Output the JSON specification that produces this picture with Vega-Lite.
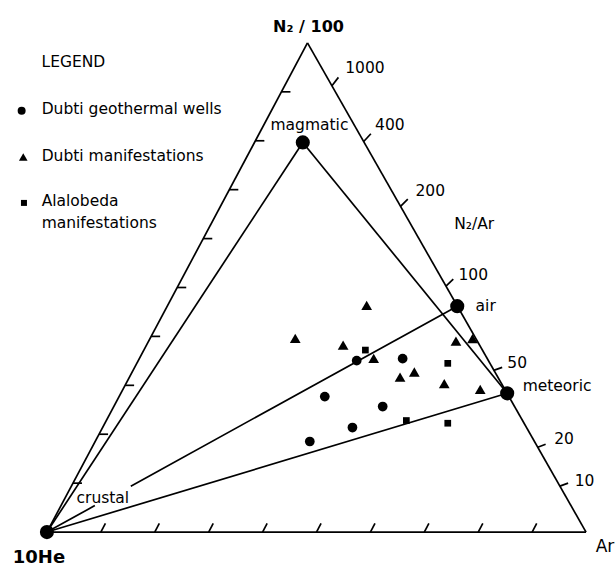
{
  "$schema": "https://vega.github.io/schema/vega-lite/v6.json",
  "width": 615,
  "height": 567,
  "autosize": {"type": "fit", "contains": "padding"},
  "padding": 0,
  "background": "white",
  "config": {"view": {"stroke": null}, "font": "DejaVu Sans"},
  "encoding": {
    "x": {"field": "x", "type": "quantitative", "scale": {"domain": [-8.7037, 105.1852], "nice": false, "zero": false}, "axis": null},
    "y": {"field": "y", "type": "quantitative", "scale": {"domain": [-6.2963, 98.7037], "nice": false, "zero": false}, "axis": null}
  },
  "layer": [
    {
      "data": {"values": [
        {"part": "edge", "x": 0, "y": 0, "x2": 48.33, "y2": 90.74},
        {"part": "edge", "x": 48.33, "y": 90.74, "x2": 100, "y2": 0},
        {"part": "edge", "x": 0, "y": 0, "x2": 100, "y2": 0},
        {"part": "crustal-magmatic", "x": 0, "y": 0, "x2": 47.46, "y2": 72.28},
        {"part": "magmatic-meteoric", "x": 47.46, "y": 72.28, "x2": 85.37, "y2": 25.74},
        {"part": "crustal-air", "x": 0, "y": 0, "x2": 8.89, "y2": 4.91},
        {"part": "crustal-air", "x": 15.56, "y": 8.52, "x2": 76.11, "y2": 41.91},
        {"part": "crustal-meteoric", "x": 0, "y": 0, "x2": 85.37, "y2": 25.74},
        {"part": "left tick", "x": 4.83, "y": 9.07, "x2": 6.5, "y2": 9.07},
        {"part": "left tick", "x": 9.67, "y": 18.15, "x2": 11.34, "y2": 18.15},
        {"part": "left tick", "x": 14.5, "y": 27.22, "x2": 16.17, "y2": 27.22},
        {"part": "left tick", "x": 19.33, "y": 36.3, "x2": 21.0, "y2": 36.3},
        {"part": "left tick", "x": 24.17, "y": 45.37, "x2": 25.84, "y2": 45.37},
        {"part": "left tick", "x": 29.0, "y": 54.44, "x2": 30.67, "y2": 54.44},
        {"part": "left tick", "x": 33.83, "y": 63.52, "x2": 35.5, "y2": 63.52},
        {"part": "left tick", "x": 38.66, "y": 72.59, "x2": 40.33, "y2": 72.59},
        {"part": "left tick", "x": 43.5, "y": 81.67, "x2": 45.17, "y2": 81.67},
        {"part": "bottom tick", "x": 10, "y": 0, "x2": 10.85, "y2": 1.6},
        {"part": "bottom tick", "x": 20, "y": 0, "x2": 20.85, "y2": 1.6},
        {"part": "bottom tick", "x": 30, "y": 0, "x2": 30.85, "y2": 1.6},
        {"part": "bottom tick", "x": 40, "y": 0, "x2": 40.85, "y2": 1.6},
        {"part": "bottom tick", "x": 50, "y": 0, "x2": 50.85, "y2": 1.6},
        {"part": "bottom tick", "x": 60, "y": 0, "x2": 60.85, "y2": 1.6},
        {"part": "bottom tick", "x": 70, "y": 0, "x2": 70.85, "y2": 1.6},
        {"part": "bottom tick", "x": 80, "y": 0, "x2": 80.85, "y2": 1.6},
        {"part": "bottom tick", "x": 90, "y": 0, "x2": 90.85, "y2": 1.6},
        {"part": "N2/Ar 1000", "x": 52.87, "y": 82.78, "x2": 54.07, "y2": 84.35},
        {"part": "N2/Ar 400", "x": 58.76, "y": 72.46, "x2": 60.09, "y2": 73.89},
        {"part": "N2/Ar 200", "x": 65.59, "y": 60.43, "x2": 66.94, "y2": 61.76},
        {"part": "N2/Ar 100", "x": 74.02, "y": 45.61, "x2": 75.37, "y2": 46.94},
        {"part": "N2/Ar 50", "x": 82.87, "y": 30.0, "x2": 84.44, "y2": 30.56},
        {"part": "N2/Ar 20", "x": 91.04, "y": 15.74, "x2": 92.5, "y2": 16.3},
        {"part": "N2/Ar 10", "x": 95.15, "y": 8.52, "x2": 96.67, "y2": 9.07}
      ]},
      "mark": {"type": "rule", "color": "black", "strokeWidth": 1.7},
      "encoding": {
        "x2": {"field": "x2"},
        "y2": {"field": "y2"}
      }
    },
    {
      "data": {"values": [
        {"series": "Dubti geothermal wells", "x": 57.46, "y": 31.8},
        {"series": "Dubti geothermal wells", "x": 65.98, "y": 32.17},
        {"series": "Dubti geothermal wells", "x": 51.54, "y": 25.13},
        {"series": "Dubti geothermal wells", "x": 62.28, "y": 23.28},
        {"series": "Dubti geothermal wells", "x": 56.67, "y": 19.39},
        {"series": "Dubti geothermal wells", "x": 48.76, "y": 16.8}
      ]},
      "mark": {"type": "point", "shape": "circle", "filled": true, "color": "black", "opacity": 1, "size": 95}
    },
    {
      "data": {"values": [
        {"series": "Dubti manifestations", "x": 59.31, "y": 42.04},
        {"series": "Dubti manifestations", "x": 46.06, "y": 35.93},
        {"series": "Dubti manifestations", "x": 54.94, "y": 34.69},
        {"series": "Dubti manifestations", "x": 60.61, "y": 32.22},
        {"series": "Dubti manifestations", "x": 65.5, "y": 28.76},
        {"series": "Dubti manifestations", "x": 68.15, "y": 29.69},
        {"series": "Dubti manifestations", "x": 73.7, "y": 27.54},
        {"series": "Dubti manifestations", "x": 75.87, "y": 35.43},
        {"series": "Dubti manifestations", "x": 78.94, "y": 35.87},
        {"series": "Dubti manifestations", "x": 80.37, "y": 26.48}
      ]},
      "mark": {"type": "point", "shape": "triangle-up", "filled": true, "color": "black", "opacity": 1, "size": 115}
    },
    {
      "data": {"values": [
        {"series": "Alalobeda manifestations", "x": 59.07, "y": 33.76},
        {"series": "Alalobeda manifestations", "x": 74.35, "y": 31.3},
        {"series": "Alalobeda manifestations", "x": 66.67, "y": 20.69},
        {"series": "Alalobeda manifestations", "x": 74.35, "y": 20.19}
      ]},
      "mark": {"type": "point", "shape": "square", "filled": true, "color": "black", "opacity": 1, "size": 45}
    },
    {
      "data": {"values": [
        {"member": "crustal", "x": 0, "y": 0},
        {"member": "magmatic", "x": 47.46, "y": 72.28},
        {"member": "air", "x": 76.11, "y": 41.91},
        {"member": "meteoric", "x": 85.37, "y": 25.74}
      ]},
      "mark": {"type": "point", "shape": "circle", "filled": true, "color": "black", "opacity": 1, "size": 200}
    },
    {
      "data": {"values": [
        {"series": "Dubti geothermal wells", "x": -4.69, "y": 78.15}
      ]},
      "mark": {"type": "point", "shape": "circle", "filled": true, "color": "black", "opacity": 1, "size": 64}
    },
    {
      "data": {"values": [
        {"series": "Dubti manifestations", "x": -4.39, "y": 69.57}
      ]},
      "mark": {"type": "point", "shape": "triangle-up", "filled": true, "color": "black", "opacity": 1, "size": 75}
    },
    {
      "data": {"values": [
        {"series": "Alalobeda manifestations", "x": -4.26, "y": 61.06}
      ]},
      "mark": {"type": "point", "shape": "square", "filled": true, "color": "black", "opacity": 1, "size": 36}
    },
    {
      "data": {"values": [
        {"label": "LEGEND", "x": -1.0, "y": 87.13},
        {"label": "Dubti geothermal wells", "x": -0.98, "y": 78.46},
        {"label": "Dubti manifestations", "x": -0.98, "y": 69.72},
        {"label": "Alalobeda", "x": -0.98, "y": 61.48},
        {"label": "manifestations", "x": -0.98, "y": 57.31}
      ]},
      "mark": {"type": "text", "align": "left", "baseline": "middle", "fontSize": 15.5, "color": "black"},
      "encoding": {"text": {"field": "label"}}
    },
    {
      "data": {"values": [
        {"label": "1000", "x": 58.98, "y": 86.11},
        {"label": "400", "x": 63.61, "y": 75.56},
        {"label": "200", "x": 71.11, "y": 63.2},
        {"label": "N₂/Ar", "x": 79.26, "y": 57.22},
        {"label": "100", "x": 79.07, "y": 47.78},
        {"label": "50", "x": 87.22, "y": 31.43},
        {"label": "20", "x": 95.93, "y": 17.22},
        {"label": "10", "x": 99.72, "y": 9.5},
        {"label": "air", "x": 81.39, "y": 41.91},
        {"label": "meteoric", "x": 94.63, "y": 27.04},
        {"label": "magmatic", "x": 48.7, "y": 75.56},
        {"label": "crustal", "x": 10.37, "y": 6.3}
      ]},
      "mark": {"type": "text", "align": "center", "baseline": "middle", "fontSize": 15.5, "color": "black"},
      "encoding": {"text": {"field": "label"}}
    },
    {
      "data": {"values": [
        {"label": "N₂ / 100", "x": 48.52, "y": 93.7}
      ]},
      "mark": {"type": "text", "align": "center", "baseline": "middle", "fontSize": 16, "fontWeight": "bold", "color": "black"},
      "encoding": {"text": {"field": "label"}}
    },
    {
      "data": {"values": [
        {"label": "10He", "x": -1.48, "y": -4.81}
      ]},
      "mark": {"type": "text", "align": "center", "baseline": "middle", "fontSize": 18, "fontWeight": "bold", "color": "black"},
      "encoding": {"text": {"field": "label"}}
    },
    {
      "data": {"values": [
        {"label": "Ar", "x": 103.52, "y": -2.78}
      ]},
      "mark": {"type": "text", "align": "center", "baseline": "middle", "fontSize": 17, "color": "black"},
      "encoding": {"text": {"field": "label"}}
    }
  ]
}
